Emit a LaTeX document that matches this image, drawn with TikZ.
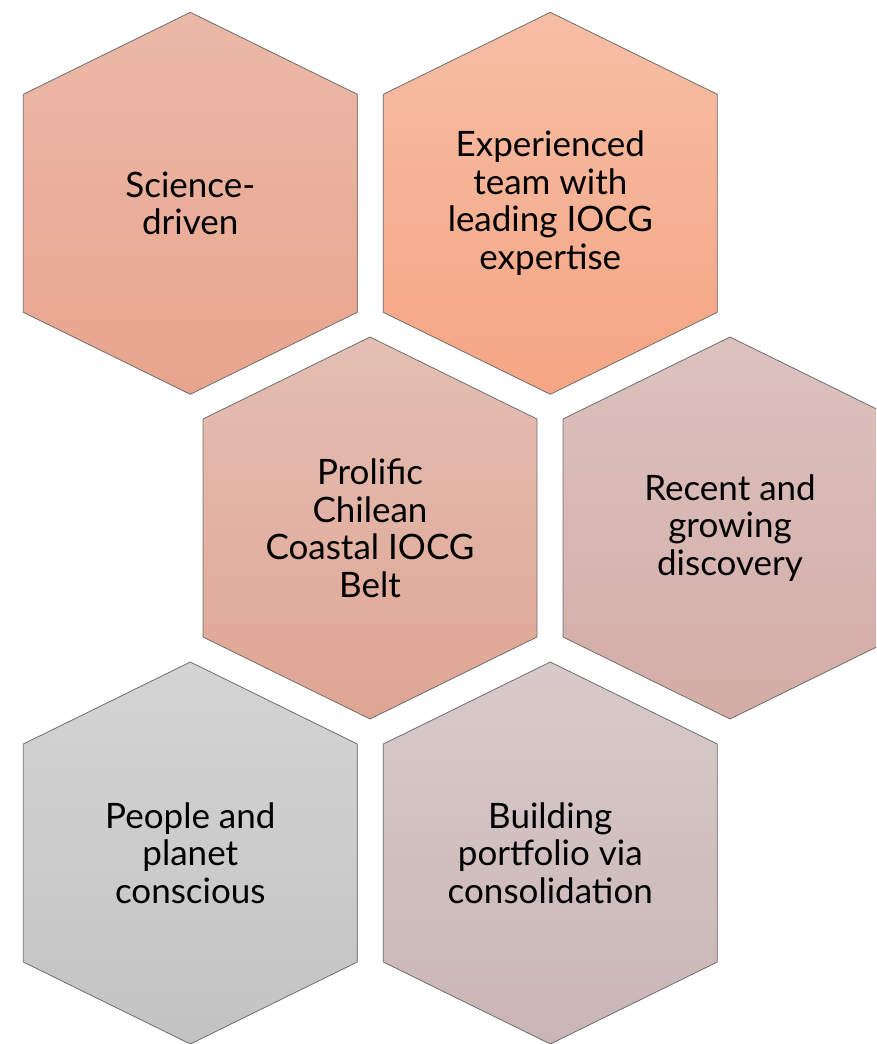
\documentclass[tikz,border=0pt]{standalone}
\usepackage{fontspec}
\setmainfont{Lato}
\definecolor{cAt}{HTML}{EBB9A8}\definecolor{cAb}{HTML}{E8A48D}
\definecolor{cBt}{HTML}{F6BEA4}\definecolor{cBb}{HTML}{F5A584}
\definecolor{cCt}{HTML}{E4BFB3}\definecolor{cCb}{HTML}{DFA593}
\definecolor{cDt}{HTML}{DCC2BF}\definecolor{cDb}{HTML}{D4ACA6}
\definecolor{cEt}{HTML}{D4D4D4}\definecolor{cEb}{HTML}{C3C3C3}
\definecolor{cFt}{HTML}{D8CACA}\definecolor{cFb}{HTML}{CAB5B5}
\definecolor{hexline}{HTML}{6E6E6E}
\newcommand\hexcell[4]{%
  \shade[top color=#3, bottom color=#4, draw=hexline, line width=0.8pt]
    (#1,#2-191) -- (#1+167,#2-109) -- (#1+167,#2+109) -- (#1,#2+191)
    -- (#1-167,#2+109) -- (#1-167,#2-109) -- cycle;}
\begin{document}
\begin{tikzpicture}[x=1pt,y=-1pt]
\tikzset{lbl/.style={align=center, font=\fontsize{35}{37.5}\selectfont, text=black, inner sep=0pt}}
\useasboundingbox (0,0) rectangle (876,1044);
\clip (0,0) rectangle (876,1044);
\hexcell{190.3}{203.3}{cAt}{cAb}
\hexcell{550.3}{203.3}{cBt}{cBb}
\hexcell{370}{528}{cCt}{cCb}
\hexcell{730}{528}{cDt}{cDb}
\hexcell{190.3}{853}{cEt}{cEb}
\hexcell{550.3}{853}{cFt}{cFb}
\node[lbl] (science) at (190.3,203.3) {Science-\\driven};
\node[lbl] (team) at (550.3,203.3) {Experienced\\team with\\leading IOCG\\expertise};
\node[lbl] (belt) at (370,528) {Prolific\\Chilean\\Coastal IOCG\\Belt};
\node[lbl] (recent) at (730,528) {Recent and\\growing\\discovery};
\node[lbl] (people) at (190.3,853) {People and\\planet\\conscious};
\node[lbl] (building) at (550.3,853) {Building\\portfolio via\\consolidation};
\end{tikzpicture}
\end{document}
